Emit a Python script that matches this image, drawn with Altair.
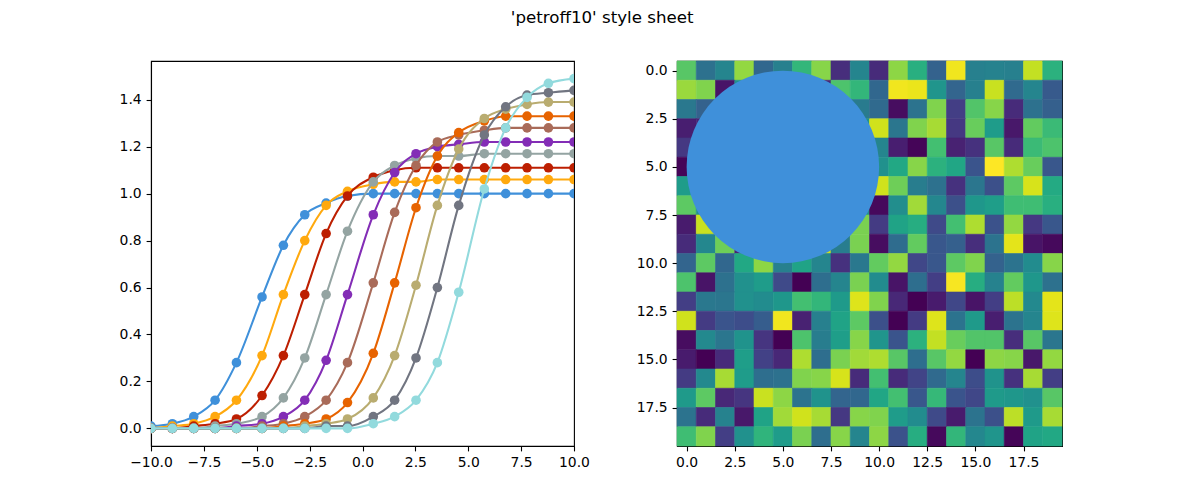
import altair as alt
import pandas as pd

TITLE = "'petroff10' style sheet"
COLORS = ["#3f90da", "#ffa90e", "#bd1f01", "#94a4a2", "#832db6",
          "#a96b59", "#e76300", "#b9ac70", "#717581", "#92dadd"]

# marker positions (x) shared by all curves
T = [-10.0, -8.99, -7.98, -6.97, -5.96, -4.75, -3.74, -2.73, -1.72, -0.71,
     0.51, 1.52, 2.53, 3.54, 4.55, 5.76, 6.77, 7.78, 8.79, 10.0]
Y0 = [0.01, 0.02, 0.05, 0.12, 0.28, 0.56, 0.78, 0.91, 0.96, 0.99, 1.00, 1.00, 1.00, 1.00, 1.00, 1.00, 1.00, 1.00, 1.00, 1.00]
Y1 = [0.00, 0.01, 0.02, 0.05, 0.12, 0.31, 0.57, 0.80, 0.95, 1.01, 1.04, 1.05, 1.05, 1.06, 1.06, 1.06, 1.06, 1.06, 1.06, 1.06]
Y2 = [0.00, 0.00, 0.01, 0.02, 0.04, 0.14, 0.31, 0.57, 0.83, 0.99, 1.07, 1.10, 1.11, 1.11, 1.11, 1.11, 1.11, 1.11, 1.11, 1.11]
Y3 = [0.00, 0.00, 0.00, 0.01, 0.02, 0.05, 0.13, 0.30, 0.57, 0.84, 1.05, 1.12, 1.15, 1.16, 1.16, 1.17, 1.17, 1.17, 1.17, 1.17]
Y4 = [0.00, 0.00, 0.00, 0.00, 0.01, 0.02, 0.05, 0.12, 0.29, 0.57, 0.91, 1.09, 1.17, 1.20, 1.21, 1.22, 1.22, 1.22, 1.22, 1.22]
Y5 = [0.00, 0.00, 0.00, 0.00, 0.00, 0.01, 0.02, 0.05, 0.12, 0.28, 0.62, 0.92, 1.12, 1.22, 1.25, 1.27, 1.28, 1.28, 1.28, 1.28]
Y6 = [0.00, 0.00, 0.00, 0.00, 0.00, 0.00, 0.01, 0.02, 0.04, 0.11, 0.32, 0.62, 0.94, 1.16, 1.26, 1.31, 1.33, 1.33, 1.33, 1.33]
Y7 = [0.00, 0.00, 0.00, 0.00, 0.00, 0.00, 0.00, 0.01, 0.02, 0.04, 0.13, 0.31, 0.61, 0.95, 1.19, 1.32, 1.36, 1.38, 1.39, 1.39]
Y8 = [0.00, 0.00, 0.00, 0.00, 0.00, 0.00, 0.00, 0.00, 0.01, 0.01, 0.05, 0.12, 0.30, 0.60, 0.95, 1.25, 1.37, 1.42, 1.43, 1.44]
Y9 = [0.00, 0.00, 0.00, 0.00, 0.00, 0.00, 0.00, 0.00, 0.00, 0.00, 0.02, 0.05, 0.12, 0.28, 0.58, 1.02, 1.28, 1.41, 1.47, 1.49]
SERIES = [Y0, Y1, Y2, Y3, Y4, Y5, Y6, Y7, Y8, Y9]

X_TICKS = [-10, -7.5, -5, -2.5, 0, 2.5, 5, 7.5, 10]
Y_TICKS = [0.0, 0.2, 0.4, 0.6, 0.8, 1.0, 1.2, 1.4]
X_DOMAIN = [-10, 10]
Y_DOMAIN = [-0.075, 1.565]

# 20x20 image values (row 0 at top); cells under the circle are not visible
ROW00 = [0.74, 0.37, 0.45, 0.84, 0.33, 0.43, 0.66, 0.82, 0.13, 0.45, 0.12, 0.83, 0.63, 0.31, 0.98, 0.43, 0.44, 0.43, 0.91, 0.64]
ROW01 = [0.85, 0.81, 0.05, 0.50, 0.50, 0.50, 0.50, 0.10, 0.72, 0.66, 0.33, 0.98, 0.97, 0.52, 0.32, 0.43, 0.92, 0.34, 0.45, 0.28]
ROW02 = [0.40, 0.31, 0.50, 0.50, 0.50, 0.50, 0.50, 0.50, 0.50, 0.41, 0.34, 0.03, 0.38, 0.81, 0.18, 0.73, 0.82, 0.12, 0.37, 0.30]
ROW03 = [0.08, 0.10, 0.50, 0.50, 0.50, 0.50, 0.50, 0.50, 0.50, 0.50, 0.93, 0.39, 0.81, 0.87, 0.16, 0.77, 0.55, 0.06, 0.76, 0.68]
ROW04 = [0.16, 0.50, 0.50, 0.50, 0.50, 0.50, 0.50, 0.50, 0.50, 0.50, 0.45, 0.08, 0.01, 0.70, 0.09, 0.14, 0.74, 0.12, 0.68, 0.72]
ROW05 = [0.01, 0.50, 0.50, 0.50, 0.50, 0.50, 0.50, 0.50, 0.50, 0.50, 0.50, 0.60, 0.82, 0.64, 0.59, 0.26, 1.00, 0.88, 0.77, 0.27]
ROW06 = [0.55, 0.50, 0.50, 0.50, 0.50, 0.50, 0.50, 0.50, 0.50, 0.50, 0.93, 0.78, 0.42, 0.37, 0.14, 0.39, 0.24, 0.75, 0.94, 0.61]
ROW07 = [0.75, 0.50, 0.50, 0.50, 0.50, 0.50, 0.50, 0.50, 0.50, 0.50, 0.02, 0.49, 0.86, 0.46, 0.24, 0.53, 0.56, 0.69, 0.69, 0.63]
ROW08 = [0.07, 0.92, 0.50, 0.50, 0.50, 0.50, 0.50, 0.50, 0.50, 0.80, 0.17, 0.58, 0.62, 0.22, 0.70, 0.88, 0.25, 0.84, 0.16, 0.27]
ROW09 = [0.12, 0.46, 0.78, 0.10, 0.50, 0.50, 0.50, 0.93, 0.42, 0.80, 0.03, 0.35, 0.76, 0.27, 0.30, 0.13, 0.38, 0.96, 0.05, 0.02]
ROW10 = [0.32, 0.75, 0.33, 0.60, 0.83, 0.43, 0.58, 0.45, 0.14, 0.40, 0.76, 0.84, 0.21, 0.27, 0.75, 0.81, 0.31, 0.38, 0.48, 0.82]
ROW11 = [0.72, 0.05, 0.37, 0.50, 0.55, 0.22, 0.00, 0.36, 0.45, 0.80, 0.48, 0.05, 0.36, 0.18, 0.99, 0.62, 0.44, 0.76, 0.53, 0.37]
ROW12 = [0.18, 0.40, 0.39, 0.50, 0.48, 0.53, 0.70, 0.66, 0.54, 0.95, 0.81, 0.11, 0.00, 0.07, 0.21, 0.05, 0.18, 0.90, 0.47, 0.96]
ROW13 = [0.93, 0.17, 0.26, 0.23, 0.29, 0.98, 0.09, 0.43, 0.58, 0.75, 0.24, 0.00, 0.17, 0.95, 0.38, 0.54, 0.08, 0.38, 0.45, 0.95]
ROW14 = [0.03, 0.47, 0.39, 0.51, 0.15, 0.00, 0.72, 0.42, 0.56, 0.82, 0.52, 0.26, 0.64, 0.91, 0.77, 0.73, 0.73, 0.13, 0.74, 0.39]
ROW15 = [0.07, 0.00, 0.12, 0.56, 0.19, 0.11, 0.88, 0.36, 0.80, 0.86, 0.88, 0.74, 0.36, 0.74, 0.84, 0.00, 0.83, 0.82, 0.06, 0.84]
ROW16 = [0.17, 0.47, 0.87, 0.55, 0.36, 0.37, 0.81, 0.82, 0.94, 0.12, 0.70, 0.12, 0.20, 0.34, 0.45, 0.23, 0.51, 0.14, 0.87, 0.18]
ROW17 = [0.54, 0.75, 0.11, 0.15, 0.92, 0.83, 0.38, 0.51, 0.32, 0.33, 0.59, 0.70, 0.27, 0.67, 0.26, 0.21, 0.54, 0.53, 0.50, 0.74]
ROW18 = [0.38, 0.12, 0.44, 0.06, 0.58, 0.86, 0.93, 0.87, 0.16, 0.82, 0.81, 0.55, 0.48, 0.22, 0.07, 0.38, 0.24, 0.90, 0.54, 0.87]
ROW19 = [0.69, 0.81, 0.18, 0.50, 0.65, 0.55, 0.80, 0.36, 0.82, 0.45, 0.83, 0.25, 0.62, 0.02, 0.66, 0.46, 0.52, 0.01, 0.58, 0.60]
IMAGE = [ROW00, ROW01, ROW02, ROW03, ROW04, ROW05, ROW06, ROW07, ROW08, ROW09,
         ROW10, ROW11, ROW12, ROW13, ROW14, ROW15, ROW16, ROW17, ROW18, ROW19]
IMG_TICKS = [0, 2.5, 5, 7.5, 10, 12.5, 15, 17.5]
IMG_DOMAIN = [-0.5, 19.5]
CIRCLE_X, CIRCLE_Y, CIRCLE_R = 5, 5, 5

# ---- layout / style ----
LEFT_W, H = 423, 385
IMG_W = 385
FONT = "DejaVu Sans"
LABEL_SIZE = 13.9
EXT = 45

lines_df = pd.DataFrame(
    [{"t": t, "y": y, "s": i} for i, ys in enumerate(SERIES) for t, y in zip(T, ys)]
)

xs = alt.Scale(domain=X_DOMAIN, nice=False, zero=False)
ys = alt.Scale(domain=Y_DOMAIN, nice=False, zero=False)
x_axis = alt.Axis(values=X_TICKS, format=".1f", title=None, labelOverlap=False, labelFlush=False)
y_axis = alt.Axis(values=Y_TICKS, format=".1f", title=None, minExtent=EXT, maxExtent=EXT,
                  labelOverlap=False, labelFlush=False)

layers = []
for i, col in enumerate(COLORS):
    base = alt.Chart(lines_df).transform_filter(alt.datum.s == i).encode(
        x=alt.X("t:Q", scale=xs, axis=x_axis),
        y=alt.Y("y:Q", scale=ys, axis=y_axis),
    )
    layers.append(base.mark_line(interpolate="monotone", strokeWidth=2.08, color=col, clip=True))
    layers.append(base.mark_circle(size=92, opacity=1, color=col, clip=True))

left = alt.layer(*layers).properties(width=LEFT_W, height=H)

img_df = pd.DataFrame(
    [{"r": r, "c": c, "v": v} for r, row in enumerate(IMAGE) for c, v in enumerate(row)]
)
isx = alt.Scale(domain=IMG_DOMAIN, nice=False, zero=False)
isy = alt.Scale(domain=IMG_DOMAIN, nice=False, zero=False, reverse=True)
cscale = alt.Scale(scheme="viridis", domain=[0, 1])
ix_axis = alt.Axis(values=IMG_TICKS, format=".1f", title=None, labelOverlap=False, labelFlush=False)
iy_axis = alt.Axis(values=IMG_TICKS, format=".1f", title=None, minExtent=EXT, maxExtent=EXT,
                   labelOverlap=False, labelFlush=False)

heat = alt.Chart(img_df).transform_calculate(
    x0="datum.c - 0.5", x1="datum.c + 0.5", y0="datum.r - 0.5", y1="datum.r + 0.5"
).mark_rect(strokeWidth=0.6).encode(
    x=alt.X("x0:Q", scale=isx, axis=ix_axis),
    x2="x1:Q",
    y=alt.Y("y0:Q", scale=isy, axis=iy_axis),
    y2="y1:Q",
    color=alt.Color("v:Q", scale=cscale, legend=None),
    stroke=alt.Stroke("v:Q", scale=cscale, legend=None),
)

px_per_unit = IMG_W / (IMG_DOMAIN[1] - IMG_DOMAIN[0])
circle_size = (2 * CIRCLE_R * px_per_unit) ** 2
circ_df = pd.DataFrame({"cx": [CIRCLE_X], "cy": [CIRCLE_Y]})
circ = alt.Chart(circ_df).mark_point(
    shape="circle", filled=True, opacity=1, size=circle_size, color=COLORS[0], strokeWidth=0
).encode(
    x=alt.X("cx:Q", scale=isx, axis=ix_axis),
    y=alt.Y("cy:Q", scale=isy, axis=iy_axis),
)

right = alt.layer(heat, circ).properties(width=IMG_W, height=H)

chart = alt.hconcat(left, right, spacing=103, bounds="flush").properties(
    title=alt.TitleParams(TITLE, font=FONT, fontSize=16.67, fontWeight="normal",
                          color="black", anchor="middle", offset=33, dx=18),
    padding={"left": 105, "top": 10, "right": 5, "bottom": 5},
    background="white",
).configure_view(
    stroke="black", strokeWidth=1.1
).configure_axis(
    labelFont=FONT, labelFontSize=LABEL_SIZE, labelColor="black",
    domainColor="black", domainWidth=1.1, tickColor="black", tickWidth=1.1,
    tickSize=4.9, labelPadding=4.9, grid=False, zindex=1,
)

chart.save("out.html", embed_options={"renderer": "svg", "actions": False})
